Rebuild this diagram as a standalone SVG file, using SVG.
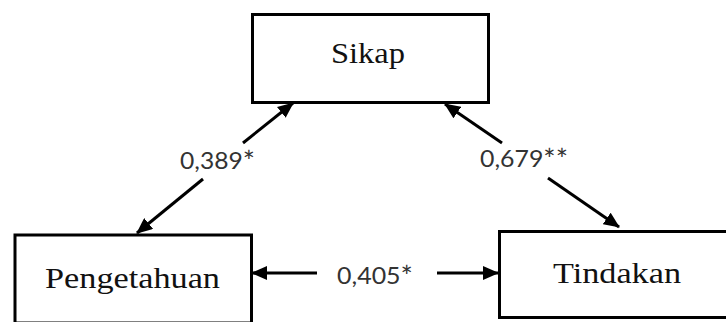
<svg xmlns="http://www.w3.org/2000/svg" width="726" height="322" viewBox="0 0 726 322">
<style>
.box{fill:#fff;stroke:#000;stroke-width:3}
.node{font-family:"Liberation Serif","Times New Roman",serif;font-size:30px;fill:#111;text-anchor:middle}
.lbl{font-family:Lato,"Liberation Sans",sans-serif;font-size:24px;fill:#333}
.st{font-size:28px}
.ln{stroke:#000;stroke-width:3;fill:none;marker-end:url(#ah)}
</style>
<defs>
<marker id="ah" markerUnits="userSpaceOnUse" markerWidth="16" markerHeight="14" refX="15" refY="7" orient="auto">
<path d="M0,0 L16,7 L0,14 z" fill="#000"/>
</marker>
</defs>
<rect width="726" height="322" fill="#fff"/>
<g id="sikap">
<rect class="box" x="252.5" y="14.5" width="236" height="88"/>
<text class="node" x="368" y="63" textLength="74" lengthAdjust="spacingAndGlyphs">Sikap</text>
</g>
<g id="pengetahuan">
<rect class="box" x="15" y="235" width="236.5" height="88"/>
<text class="node" x="132.5" y="288" textLength="175" lengthAdjust="spacingAndGlyphs">Pengetahuan</text>
</g>
<g id="tindakan">
<rect class="box" x="499.5" y="231.5" width="240" height="86"/>
<text class="node" x="617" y="283" textLength="128" lengthAdjust="spacingAndGlyphs">Tindakan</text>
</g>
<g id="connectors">
<line class="ln" x1="243" y1="143" x2="293" y2="103"/>
<line class="ln" x1="203" y1="179" x2="137" y2="233"/>
<line class="ln" x1="502" y1="143" x2="445" y2="104"/>
<line class="ln" x1="548" y1="178" x2="619" y2="227"/>
<line class="ln" x1="317" y1="273" x2="252" y2="273"/>
<line class="ln" x1="437" y1="273" x2="498" y2="273"/>
<text class="lbl" x="180" y="169" textLength="75" lengthAdjust="spacingAndGlyphs">0,389<tspan class="st" dy="3">*</tspan></text>
<text class="lbl" x="480" y="167" textLength="88" lengthAdjust="spacingAndGlyphs">0,679<tspan class="st" dy="3">**</tspan></text>
<text class="lbl" x="337" y="284" textLength="76" lengthAdjust="spacingAndGlyphs">0,405<tspan class="st" dy="3">*</tspan></text>
</g>
</svg>
